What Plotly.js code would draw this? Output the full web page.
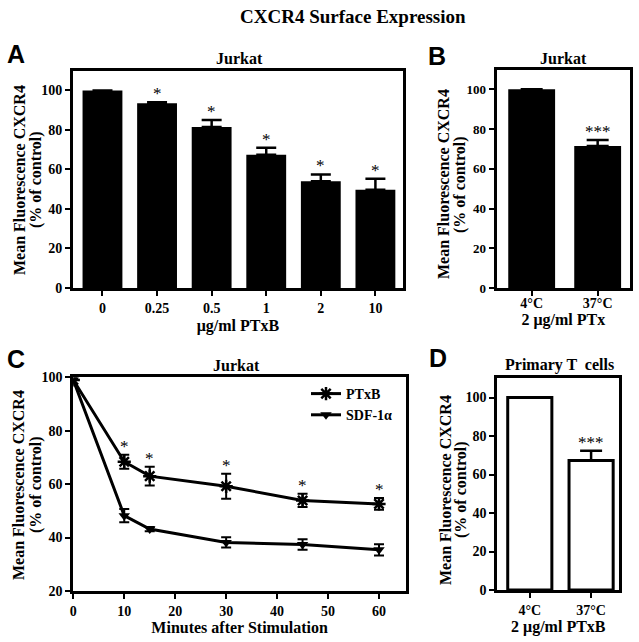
<!DOCTYPE html>
<html>
<head>
<meta charset="utf-8">
<script src="https://cdn.plot.ly/plotly-3.0.1.min.js"></script>
<style>html,body{margin:0;padding:0;background:#fff;}#chart{width:639px;height:642px;}</style>
</head>
<body>
<div id="chart"></div>
<script>
// ---- Panel A: Jurkat, PTxB dose ----
const concA = ['0', '0.25', '0.5', '1', '2', '10'];
const meanA = [100, 93.5, 81.5, 67.5, 54, 49.7];
const errA = [0, 0.5, 3.5, 3.5, 3.5, 5.6];
const starA = ['', '*', '*', '*', '*', '*'];

// ---- Panel B: Jurkat, 2 ug/ml PTx ----
const tempB = ['4°C', '37°C'];
const meanB = [100, 71.5];
const errB = [0, 3];
const starB = ['', '***'];

// ---- Panel C: Jurkat time course ----
const minutesC = [0, 10, 15, 30, 45, 60];
const ptxbC = [99, 68.4, 63, 59.2, 53.9, 52.6];
const ptxbErrC = [null, 2.6, 3.5, 4.7, 2.5, 2.2];
const sdfC = [99, 48.2, 43.2, 38.2, 37.4, 35.4];
const sdfErrC = [null, 2.5, 0.8, 1.9, 2, 2.1];
const starC = ['', '*', '*', '*', '*', '*'];

// ---- Panel D: Primary T cells ----
const tempD = ['4°C', '37°C'];
const meanD = [100, 67.3];
const errD = [0, 5];
const starD = ['', '***'];

const yTitleLines = ['Mean Fluorescence CXCR4', '(% of control)'];

const SERIF = 'Liberation Serif';
const tickFont = {family: SERIF, size: 14, color: '#000', weight: 700};
const titleFont = {family: SERIF, size: 16, color: '#000', weight: 700};

function axisBase(extra) {
  return Object.assign({
    showline: true, linecolor: '#000', linewidth: 3, mirror: true,
    ticks: 'outside', ticklen: 5, tickwidth: 2, tickcolor: '#000',
    showgrid: false, zeroline: false, tickfont: tickFont, fixedrange: true
  }, extra);
}

const traces = [
  {type: 'bar', x: concA, y: meanA, xaxis: 'x', yaxis: 'y', width: 0.73,
   marker: {color: '#000'}, showlegend: false,
   error_y: {type: 'data', array: errA, arrayminus: errA.map(() => 0), symmetric: false,
             color: '#000', thickness: 2.5, width: 10}},
  {type: 'bar', x: tempB, y: meanB, xaxis: 'x2', yaxis: 'y2', width: 0.71,
   marker: {color: '#000'}, showlegend: false,
   error_y: {type: 'data', array: errB, arrayminus: errB.map(() => 0), symmetric: false,
             color: '#000', thickness: 2.5, width: 11}},
  {type: 'scatter', mode: 'lines+markers', name: 'PTxB', x: minutesC, y: ptxbC,
   xaxis: 'x3', yaxis: 'y3',
   line: {color: '#000', width: 3},
   marker: {symbol: 'asterisk-open', size: 11, color: '#000', line: {color: '#000', width: 2.5}},
   error_y: {type: 'data', array: ptxbErrC, color: '#000', thickness: 2, width: 5}},
  {type: 'scatter', mode: 'lines+markers', name: 'SDF-1α', x: minutesC, y: sdfC,
   xaxis: 'x3', yaxis: 'y3',
   line: {color: '#000', width: 3},
   marker: {symbol: 'triangle-down', size: 10, color: '#000'},
   error_y: {type: 'data', array: sdfErrC, color: '#000', thickness: 2, width: 5}},
  {type: 'bar', x: tempD, y: meanD, xaxis: 'x4', yaxis: 'y4', width: 0.72,
   marker: {color: '#fff', line: {color: '#000', width: 3}}, showlegend: false,
   error_y: {type: 'data', array: errD, arrayminus: errD.map(() => 0), symmetric: false,
             color: '#000', thickness: 2.5, width: 11}}
];

const annotations = [];
// stars: category axes use the category index as position
function addStars(xs, ys, errs, stars, xref, yref, isCategory) {
  stars.forEach((s, i) => {
    if (!s) return;
    annotations.push({x: isCategory ? i : xs[i], y: ys[i] + (errs[i] || 0), xref: xref, yref: yref,
      text: s, showarrow: false, yanchor: 'bottom', yshift: -3,
      font: {family: SERIF, size: 17, color: '#000'}});
  });
}
addStars(concA, meanA, errA, starA, 'x', 'y', true);
addStars(tempB, meanB, errB, starB, 'x2', 'y2', true);
addStars(minutesC, ptxbC, ptxbErrC, starC, 'x3', 'y3', false);
addStars(tempD, meanD, errD, starD, 'x4', 'y4', true);

function paperText(text, x, y, font, angle) {
  annotations.push({text: text, x: x / 639, y: 1 - y / 642, xref: 'paper', yref: 'paper',
    showarrow: false, xanchor: 'center', yanchor: 'middle', font: font, textangle: angle || 0});
}
const panelTitleFont = {family: SERIF, size: 16, color: '#000', weight: 700};
const letterFont = {family: 'Liberation Sans', size: 25, color: '#000', weight: 700};
paperText('CXCR4 Surface Expression', 353, 16, {family: SERIF, size: 19, color: '#000', weight: 700});
paperText('Jurkat', 239, 58, panelTitleFont);
paperText('Jurkat', 563, 58, panelTitleFont);
paperText('Jurkat', 236, 365, panelTitleFont);
paperText('Primary T  cells', 559, 365, panelTitleFont);
paperText('A', 16, 54, letterFont);
paperText('B', 437, 56, letterFont);
paperText('C', 16, 359, letterFont);
paperText('D', 438, 358, letterFont);

// y-axis titles (two lines each, rotated)
const yTitlePos = [[19, 36, 180], [443, 460, 184], [18, 36, 485], [445, 461, 490]];
yTitlePos.forEach(p => {
  paperText(yTitleLines[0], p[0], p[2], titleFont, -90);
  paperText(yTitleLines[1], p[1], p[2], titleFont, -90);
});

const layout = {
  width: 639, height: 642,
  margin: {l: 0, r: 0, t: 0, b: 0},
  paper_bgcolor: '#fff', plot_bgcolor: '#fff',
  font: {family: SERIF, color: '#000'},
  xaxis: axisBase({domain: [73 / 639, 402.7 / 639], anchor: 'y', type: 'category',
    range: [-0.54, 5.5], title: {text: 'μg/ml PTxB', font: titleFont, standoff: 6}}),
  yaxis: axisBase({domain: [1 - 288 / 642, 1 - 70.7 / 642], anchor: 'x', range: [0, 110], dtick: 20}),
  xaxis2: axisBase({domain: [496.7 / 639, 630 / 639], anchor: 'y2', type: 'category',
    range: [-0.53, 1.49], ticklabelstandoff: -5,
    title: {text: '2 μg/ml PTx', font: titleFont, standoff: 0}}),
  yaxis2: axisBase({domain: [1 - 288 / 642, 1 - 69.5 / 642], anchor: 'x2', range: [0, 110], dtick: 20,
    tickfont: {family: SERIF, size: 13, color: '#000', weight: 700}}),
  xaxis3: axisBase({domain: [73.3 / 639, 406 / 639], anchor: 'y3', range: [0, 65.3], dtick: 10,
    title: {text: 'Minutes after Stimulation', font: titleFont, standoff: 4}}),
  yaxis3: axisBase({domain: [1 - 591 / 642, 1 - 377.3 / 642], anchor: 'x3', range: [20, 100], dtick: 20}),
  xaxis4: axisBase({domain: [497.3 / 639, 619.3 / 639], anchor: 'y4', type: 'category',
    range: [-0.53, 1.46], title: {text: '2 μg/ml PTxB', font: titleFont, standoff: 2}}),
  yaxis4: axisBase({domain: [1 - 590 / 642, 1 - 378.3 / 642], anchor: 'x4', range: [0, 110], dtick: 20}),
  showlegend: true,
  legend: {x: 306 / 639, y: 1 - 378 / 642, xanchor: 'left', yanchor: 'top',
    bgcolor: 'rgba(0,0,0,0)', borderwidth: 0,
    font: {family: SERIF, size: 14, color: '#000', weight: 700}},
  annotations: annotations
};

Plotly.newPlot('chart', traces, layout, {displayModeBar: false, staticPlot: true});
</script>
</body>
</html>
